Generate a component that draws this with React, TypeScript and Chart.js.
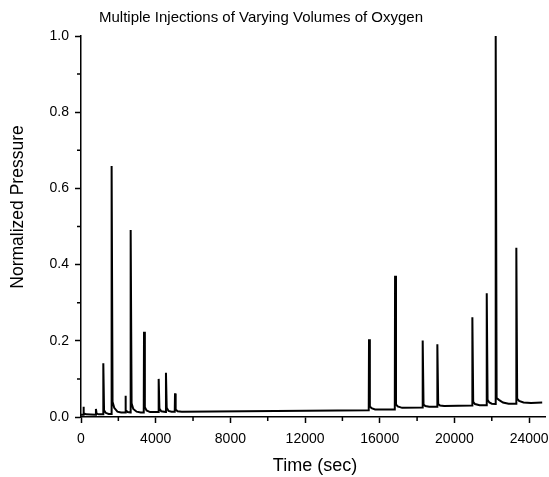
import React, { useEffect, useRef } from 'react';
import { Chart, registerables } from 'chart.js';

Chart.register(...registerables);

const titleText = 'Multiple Injections of Varying Volumes of Oxygen';
const xTitle = 'Time (sec)';
const yTitle = 'Normalized Pressure';

const xTickValues = [0, 4000, 8000, 12000, 16000, 20000, 24000];
const xMinorTicks = [2000, 6000, 10000, 14000, 18000, 22000];
const yTickValues = [0, 0.2, 0.4, 0.6, 0.8, 1.0];
const yMinorTicks = [0.1, 0.3, 0.5, 0.7, 0.9];

const timeSec = [
  0, 110, 125, 160, 260,
  785, 800, 835, 950,
  1180, 1195, 1235, 1320, 1480,
  1625, 1640, 1690, 1780, 1950, 2150,
  2360, 2375, 2410, 2500,
  2645, 2660, 2710, 2800, 2980, 3200,
  3360, 3375, 3420, 3510, 3700,
  4145, 4160, 4200, 4300,
  4535, 4550, 4590, 4690, 4850,
  5020, 5035, 5070, 5170, 5400,
  15410, 15425, 15470, 15560, 15750,
  16805, 16820, 16870, 16960, 17200,
  18285, 18300, 18345, 18440, 18650,
  19070, 19085, 19130, 19230, 19450,
  20945, 20960, 21005, 21100, 21350,
  21715, 21730, 21775, 21870, 22000,
  22195, 22210, 22260, 22380, 22600, 22900,
  23300, 23315, 23360, 23460, 23700, 24100,
  24700,
];

const pressure = [
  0.006, 0.006, 0.027, 0.010, 0.007,
  0.006, 0.021, 0.009, 0.007,
  0.007, 0.141, 0.018, 0.011, 0.008,
  0.008, 0.659, 0.040, 0.024, 0.014, 0.012,
  0.012, 0.056, 0.018, 0.013,
  0.012, 0.491, 0.036, 0.021, 0.014, 0.012,
  0.012, 0.224, 0.026, 0.017, 0.013,
  0.013, 0.100, 0.022, 0.015,
  0.013, 0.116, 0.024, 0.016, 0.014,
  0.014, 0.062, 0.020, 0.015, 0.014,
  0.018, 0.204, 0.028, 0.023, 0.020,
  0.020, 0.371, 0.033, 0.028, 0.024,
  0.025, 0.201, 0.033, 0.029, 0.027,
  0.027, 0.191, 0.034, 0.030, 0.029,
  0.030, 0.262, 0.040, 0.034, 0.031,
  0.031, 0.325, 0.045, 0.038, 0.035,
  0.034, 1.000, 0.050, 0.045, 0.038, 0.035,
  0.035, 0.444, 0.048, 0.042, 0.038, 0.037,
  0.038,
];

const FONT = "'Liberation Sans', Arial, sans-serif";

export default function App() {
  const ref = useRef<HTMLCanvasElement>(null);

  useEffect(() => {
    if (!ref.current) return;

    const decor = {
      id: 'decor',
      afterDraw(chart: any) {
        const ctx = chart.ctx;
        const xs = chart.scales.x;
        const ys = chart.scales.y;
        ctx.save();
        ctx.strokeStyle = '#000';
        ctx.lineWidth = 1.5;
        ctx.beginPath();
        xMinorTicks.forEach((v) => {
          const p = xs.getPixelForValue(v);
          ctx.moveTo(p, xs.top);
          ctx.lineTo(p, xs.top + 4);
        });
        yMinorTicks.forEach((v) => {
          const p = ys.getPixelForValue(v);
          ctx.moveTo(ys.right, p);
          ctx.lineTo(ys.right - 4, p);
        });
        ctx.stroke();

        ctx.fillStyle = '#000';
        ctx.textAlign = 'center';
        ctx.textBaseline = 'alphabetic';
        ctx.font = `15px ${FONT}`;
        ctx.fillText(titleText, 261, 22);
        ctx.font = `18px ${FONT}`;
        ctx.fillText(xTitle, 315, 471);
        ctx.font = `17.5px ${FONT}`;
        ctx.translate(23, 207);
        ctx.rotate(-Math.PI / 2);
        ctx.fillText(yTitle, 0, 0);
        ctx.restore();
      },
    };

    const chart = new Chart(ref.current, {
      type: 'scatter',
      data: {
        datasets: [
          {
            data: timeSec.map((t, i) => ({ x: t, y: pressure[i] })),
            showLine: true,
            borderColor: '#000',
            backgroundColor: '#000',
            borderWidth: 2,
            pointRadius: 0,
            pointHoverRadius: 0,
            tension: 0,
            fill: false,
          },
        ],
      },
      options: {
        responsive: false,
        animation: false,
        devicePixelRatio: 1,
        layout: { padding: { top: 36, right: 4, left: 0, bottom: 0 } },
        plugins: {
          legend: { display: false },
          tooltip: { enabled: false },
          title: { display: false },
        },
        scales: {
          x: {
            type: 'linear',
            position: 'bottom',
            min: 0,
            max: 24850,
            afterBuildTicks: (s: any) => {
              s.ticks = xTickValues.map((v) => ({ value: v }));
            },
            afterFit: (s: any) => {
              s.height = 60;
              s.paddingLeft = 0;
              s.paddingRight = 0;
            },
            ticks: {
              callback: (v: any) => String(v),
              font: { family: FONT, size: 14 },
              color: '#000',
              padding: 8,
              maxRotation: 0,
              autoSkip: false,
            },
            grid: {
              display: true,
              drawOnChartArea: false,
              drawTicks: true,
              tickLength: 6,
              tickWidth: 1.5,
              tickColor: '#000',
            },
            border: { display: true, color: '#000', width: 1.5 },
          },
          y: {
            type: 'linear',
            min: 0,
            max: 1,
            afterBuildTicks: (s: any) => {
              s.ticks = yTickValues.map((v) => ({ value: v }));
            },
            afterFit: (s: any) => {
              s.width = 81;
              s.paddingTop = 0;
              s.paddingBottom = 0;
            },
            ticks: {
              callback: (v: any) => Number(v).toFixed(1),
              font: { family: FONT, size: 14 },
              color: '#000',
              padding: 6,
              autoSkip: false,
            },
            grid: {
              display: true,
              drawOnChartArea: false,
              drawTicks: true,
              tickLength: 6,
              tickWidth: 1.5,
              tickColor: '#000',
            },
            border: { display: true, color: '#000', width: 1.5 },
          },
        },
      },
      plugins: [decor],
    });

    return () => chart.destroy();
  }, []);

  return (
    <div style={{ position: 'absolute', left: 0, top: 0, width: 549, height: 477 }}>
      <canvas ref={ref} width={549} height={477} style={{ display: 'block' }} />
    </div>
  );
}
